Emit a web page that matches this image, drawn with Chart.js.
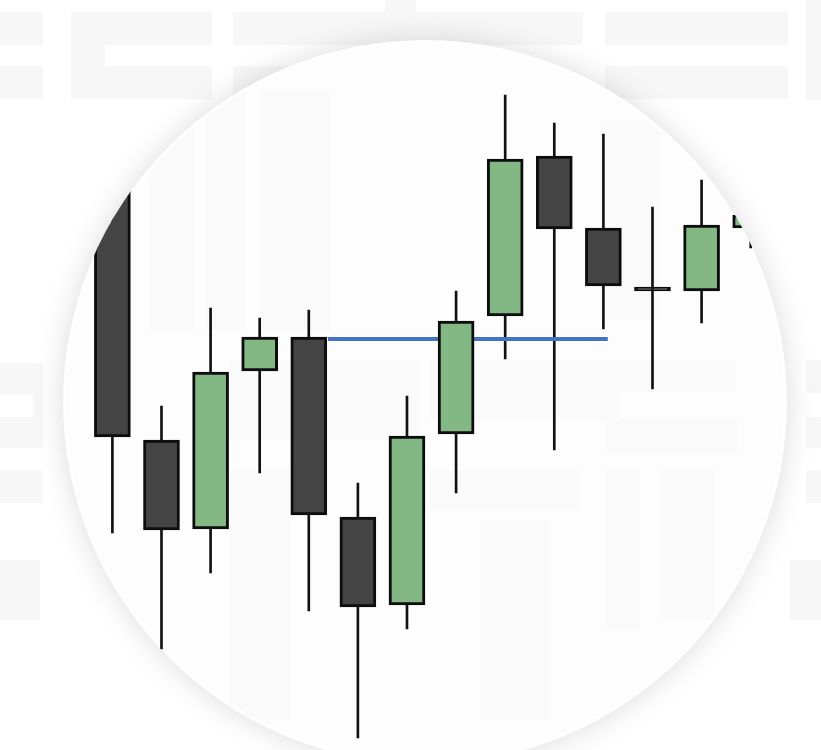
<!DOCTYPE html>
<html><head><meta charset="utf-8">
<script src="https://cdn.jsdelivr.net/npm/chart.js@4.4.1/dist/chart.umd.min.js"></script>
<style>html,body{margin:0;padding:0;background:#fff;overflow:hidden}canvas{display:block}</style>
</head><body>
<canvas id="c" width="821" height="750"></canvas>
<script>
// ---- data ----
const periods     = [1, 2, 3, 4, 5, 6, 7, 8, 9, 10, 11, 12, 13, 14];
const openPrices  = [59.0, 31.0, 22.1, 37.9, 41.3, 23.3, 14.5, 31.6, 43.4, 59.4, 52.2, 46.3, 45.9, 52.2];
const highPrices  = [63.0, 34.4, 44.2, 43.2, 44.0, 26.7, 35.4, 45.9, 65.5, 62.7, 61.6, 54.3, 57.0, 56.0];
const lowPrices   = [21.7, 10.1, 17.7, 27.7, 13.9,  1.2, 12.1, 25.7, 39.1, 30.0, 42.1, 36.1, 42.7, 50.2];
const closePrices = [31.3, 22.0, 37.8, 41.3, 23.5, 14.3, 31.4, 42.9, 59.1, 52.1, 46.4, 45.9, 52.5, 53.5];
const supportLevel = 41.1;
const supportFrom  = 5.39;
const supportTo    = 11.09;

// ---- styling ----
const UP = '#83B783', DOWN = '#444444', EDGE = '#0d0d0d', LEVEL = '#4472C4';
const disk = {cx: 425, cy: 402, r: 362};
const outerBlocks = [
  [0,12,43,33],[0,66,43,33],[71,12,141,33],[71,12,34,87],[105,66,107,33],
  [233,12,350,33],[385,0,31,12],[233,66,150,33],[605,12,183,33],[605,66,183,33],[806,0,15,100],
  [0,363,43,32],[33,395,10,22],[0,417,43,31],[0,470,43,33],
  [806,360,15,33],[806,417,15,31],[806,470,15,33],[0,560,40,60],[790,560,31,60]
];
const innerBlocks = [
  [150,120,45,210],[205,70,40,260],[260,90,70,240],
  [230,360,190,80],[430,360,190,60],[600,360,135,32],[606,418,131,35],
  [606,470,34,160],[660,468,55,152],[430,470,150,40],[480,520,70,200],
  [230,470,60,250],[600,120,60,200]
];

function diskPath(ctx){ ctx.beginPath(); ctx.arc(disk.cx, disk.cy, disk.r, 0, Math.PI*2); }

const backdrop = {
  id: 'backdrop',
  beforeDraw(chart){
    const ctx = chart.ctx, w = chart.width, h = chart.height;
    ctx.save();
    ctx.fillStyle = '#ffffff'; ctx.fillRect(0,0,w,h);
    ctx.fillStyle = '#f7f7f7';
    outerBlocks.forEach(b => ctx.fillRect(b[0],b[1],b[2],b[3]));
    ctx.shadowColor = 'rgba(0,0,0,0.14)'; ctx.shadowBlur = 30;
    ctx.fillStyle = '#fdfdfd'; diskPath(ctx); ctx.fill();
    ctx.restore();
    ctx.save(); diskPath(ctx); ctx.clip();
    ctx.fillStyle = '#fafafa';
    innerBlocks.forEach(b => ctx.fillRect(b[0],b[1],b[2],b[3]));
    ctx.restore();
    ctx.save(); ctx.strokeStyle = 'rgba(255,255,255,0.9)'; ctx.lineWidth = 1.5;
    ctx.beginPath(); ctx.arc(disk.cx, disk.cy, disk.r-2, 0, Math.PI*2); ctx.stroke(); ctx.restore();
  },
  beforeDatasetsDraw(chart){ const ctx = chart.ctx; ctx.save(); diskPath(ctx); ctx.clip(); },
  afterDatasetsDraw(chart){ chart.ctx.restore(); }
};

const bodyColors = periods.map((p,i) => closePrices[i] >= openPrices[i] ? UP : DOWN);

new Chart(document.getElementById('c'), {
  type: 'bar',
  data: {
    datasets: [
      { label: 'bodies', order: 1, grouped: false,
        data: periods.map((p,i) => ({x: p, y: [openPrices[i], closePrices[i]]})),
        backgroundColor: bodyColors, borderColor: EDGE, borderWidth: 3, borderSkipped: false,
        barThickness: 36 },
      { type: 'line', label: 'level', order: 2,
        data: [{x: supportFrom, y: supportLevel}, {x: supportTo, y: supportLevel}],
        borderColor: LEVEL, borderWidth: 4, pointRadius: 0, borderCapStyle: 'butt', fill: false },
      { label: 'wicks', order: 3, grouped: false,
        data: periods.map((p,i) => ({x: p, y: [lowPrices[i], highPrices[i]]})),
        backgroundColor: '#111111', borderWidth: 0, barThickness: 2 }
    ]
  },
  options: {
    responsive: false, animation: false,
    layout: { padding: 0 },
    plugins: { legend: { display: false }, tooltip: { enabled: false } },
    scales: {
      x: { type: 'linear', display: false, offset: false, min: -1.289, max: 15.432 },
      y: { type: 'linear', display: false, min: 0, max: 75 }
    }
  },
  plugins: [backdrop]
});
</script>
</body></html>
